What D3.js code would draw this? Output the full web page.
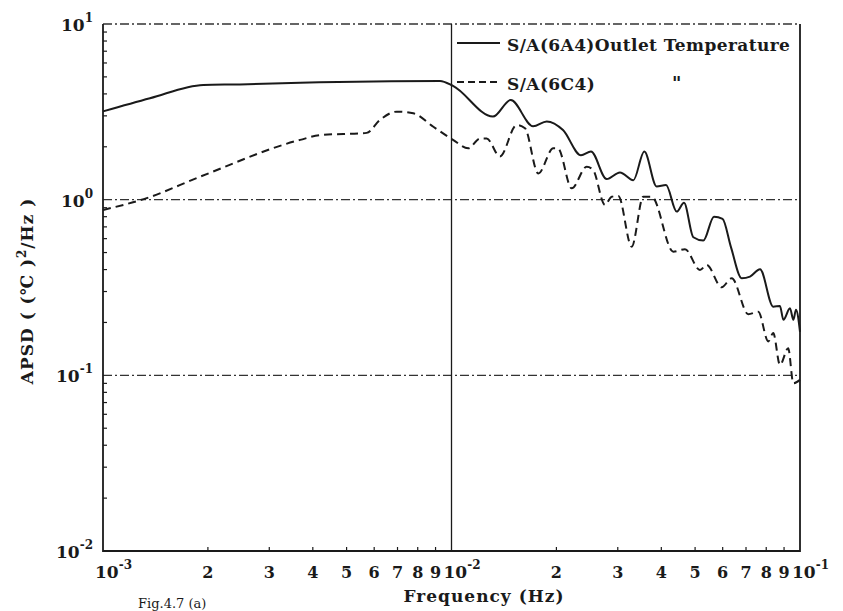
<!DOCTYPE html>
<meta charset="utf-8">
<style>

body {
  margin: 0;
  background: #fff;
}

text {
  font-family: "DejaVu Serif", serif;
  font-weight: bold;
  fill: #1a1a1a;
}

</style>
<body>
<script src="https://d3js.org/d3.v7.min.js"></script>
<script>

// S/A(6A4) outlet temperature
var freqA = [0.001, 0.001364, 0.00194, 0.00247, 0.00368, 0.00927, 0.0101, 0.01315, 0.01479, 0.01714,
             0.01876, 0.02089, 0.02353, 0.02513, 0.02788, 0.03044, 0.03324, 0.03575, 0.03878, 0.04126,
             0.04428, 0.04647, 0.04943, 0.05279, 0.05665, 0.05995, 0.0634, 0.06803, 0.07187, 0.07678,
             0.0838, 0.0876, 0.0896, 0.0936, 0.0957, 0.0974, 0.1];
var apsdA = [3.18, 3.78, 4.50, 4.53, 4.63, 4.74, 4.44, 2.97, 3.69, 2.62,
             2.79, 2.49, 1.79, 1.88, 1.31, 1.43, 1.29, 1.88, 1.19, 1.21,
             0.855, 0.961, 0.611, 0.585, 0.800, 0.777, 0.535, 0.357, 0.365, 0.402,
             0.246, 0.248, 0.207, 0.241, 0.207, 0.236, 0.177];

// S/A(6C4)
var freqC = [0.001, 0.001335, 0.001897, 0.00368, 0.004196, 0.00571, 0.00624, 0.00696, 0.00777, 0.00887,
             0.0101, 0.01117, 0.01208, 0.01262, 0.01377, 0.01538, 0.01625, 0.01774, 0.01959, 0.0202,
             0.02213, 0.02443, 0.02547, 0.02757, 0.02882, 0.03011, 0.03289, 0.03551, 0.03753, 0.0433,
             0.04677, 0.05164, 0.05397, 0.0596, 0.06368, 0.07108, 0.0759, 0.0811, 0.0838, 0.0876,
             0.0925, 0.0957, 0.1];
var apsdC = [0.874, 1.02, 1.35, 2.19, 2.33, 2.40, 2.85, 3.17, 3.10, 2.60,
             2.19, 1.96, 2.23, 2.23, 1.76, 2.66, 2.55, 1.41, 1.96, 1.96,
             1.16, 1.54, 1.48, 0.933, 1.04, 1.05, 0.540, 1.04, 1.04, 0.506,
             0.522, 0.398, 0.425, 0.317, 0.357, 0.223, 0.230, 0.156, 0.174, 0.1146,
             0.1426, 0.0902, 0.0942];

var xDecades = [1e-3, 1e-2, 1e-1];
var xDecadeLabels = ["-3", "-2", "-1"];
var yDecades = [10, 1, 0.1, 0.01];
var yDecadeLabels = ["1", "0", "-1", "-2"];
var gridLevels = [10, 1, 0.1];
var legendLabels = ["S/A(6A4)Outlet Temperature", "S/A(6C4)"];

var width = 843,
    height = 611;
var m = {left: 103, right: 800, top: 24, bottom: 551};

var svg = d3.select("body").append("svg")
    .attr("width", width)
    .attr("height", height);

var x = d3.scaleLog().domain([1e-3, 1e-1]).range([m.left, m.right]);
var y = d3.scaleLog().domain([1e-2, 10]).range([m.bottom, m.top]);

var ink = "#1a1a1a";

// dash-dot grid lines
svg.selectAll("line.grid")
    .data(gridLevels)
  .enter().append("line")
    .attr("class", "grid")
    .attr("x1", m.left).attr("x2", m.right)
    .attr("y1", function(d) { return y(d); })
    .attr("y2", function(d) { return y(d); })
    .attr("stroke", "#333")
    .attr("stroke-width", 1.3)
    .attr("stroke-dasharray", "9,3,2,3");

// frame: left, bottom, right
svg.append("path")
    .attr("d", "M" + m.left + "," + m.top + "V" + m.bottom + "H" + m.right + "V" + m.top)
    .attr("fill", "none")
    .attr("stroke", ink)
    .attr("stroke-width", 1.8);

// vertical line at 10^-2
svg.append("line")
    .attr("x1", x(1e-2)).attr("x2", x(1e-2))
    .attr("y1", m.top).attr("y2", m.bottom)
    .attr("stroke", ink)
    .attr("stroke-width", 1.3);

// minor ticks
function mantissa(d) {
  return Math.round(d / Math.pow(10, Math.floor(Math.log10(d) + 1e-9)));
}

var xMinor = x.ticks().filter(function(d) { return mantissa(d) > 1 && d < 0.1; });
svg.selectAll("line.xminor")
    .data(xMinor)
  .enter().append("line")
    .attr("x1", function(d) { return x(d); })
    .attr("x2", function(d) { return x(d); })
    .attr("y1", m.bottom).attr("y2", m.bottom - 4)
    .attr("stroke", ink).attr("stroke-width", 1.2);

var yMinor = y.ticks().filter(function(d) { return mantissa(d) > 1 && d < 10; });
svg.selectAll("line.yminor")
    .data(yMinor)
  .enter().append("line")
    .attr("x1", m.left).attr("x2", m.left + 4)
    .attr("y1", function(d) { return y(d); })
    .attr("y2", function(d) { return y(d); })
    .attr("stroke", ink).attr("stroke-width", 1.2);

// x tick labels
svg.selectAll("text.xminor")
    .data(xMinor)
  .enter().append("text")
    .attr("x", function(d) { return x(d); })
    .attr("y", 578)
    .attr("text-anchor", "middle")
    .style("font-size", "16px")
    .text(mantissa);

var xl = svg.selectAll("text.xdec")
    .data(xDecades)
  .enter().append("text")
    .attr("x", function(d) { return x(d) - 8; })
    .attr("y", 578)
    .style("font-size", "17px");
xl.append("tspan").text("10");
xl.append("tspan")
    .attr("dy", -9)
    .style("font-size", "12px")
    .text(function(d, i) { return xDecadeLabels[i]; });

// y tick labels
var yl = svg.selectAll("text.ydec")
    .data(yDecades)
  .enter().append("text")
    .attr("x", 93)
    .attr("y", function(d) { return y(d) + 7; })
    .attr("text-anchor", "end")
    .style("font-size", "17px");
yl.append("tspan").text("10");
yl.append("tspan")
    .attr("dy", -9)
    .style("font-size", "12px")
    .text(function(d, i) { return yDecadeLabels[i]; });

// axis titles
svg.append("text")
    .attr("x", 484)
    .attr("y", 602)
    .attr("text-anchor", "middle")
    .style("font-size", "17px")
    .style("letter-spacing", "1px")
    .text("Frequency  (Hz)");

var yt = svg.append("text")
    .attr("transform", "translate(33,291) rotate(-90)")
    .attr("text-anchor", "middle")
    .style("font-size", "17px")
    .style("letter-spacing", "1px");
yt.append("tspan").text("APSD  ( (\u2103 )");
yt.append("tspan").attr("dy", -7).style("font-size", "12px").text("2");
yt.append("tspan").attr("dy", 7).text("/Hz )");

svg.append("text")
    .attr("x", 138)
    .attr("y", 608)
    .style("font-size", "13px")
    .style("font-weight", "normal")
    .text("Fig.4.7 (a)");

// curves
var line = d3.line()
    .x(function(d) { return x(d[0]); })
    .y(function(d) { return y(d[1]); })
    .curve(d3.curveMonotoneX);

svg.append("path")
    .datum(d3.zip(freqA, apsdA))
    .attr("d", line)
    .attr("fill", "none")
    .attr("stroke", ink)
    .attr("stroke-width", 2);

svg.append("path")
    .datum(d3.zip(freqC, apsdC))
    .attr("d", line)
    .attr("fill", "none")
    .attr("stroke", ink)
    .attr("stroke-width", 2)
    .attr("stroke-dasharray", "8,5");

// legend
var lg = svg.append("g");
lg.append("line")
    .attr("x1", 457).attr("x2", 500).attr("y1", 43).attr("y2", 43)
    .attr("stroke", ink).attr("stroke-width", 2);
lg.append("line")
    .attr("x1", 457).attr("x2", 500).attr("y1", 82).attr("y2", 82)
    .attr("stroke", ink).attr("stroke-width", 2)
    .attr("stroke-dasharray", "7,4");
lg.selectAll("text.leg")
    .data(legendLabels)
  .enter().append("text")
    .attr("x", 507)
    .attr("y", function(d, i) { return 51 + i * 39; })
    .style("font-size", "17px")
    .style("letter-spacing", "0.4px")
    .text(function(d) { return d; });
lg.append("text")
    .attr("x", 672)
    .attr("y", 90)
    .style("font-size", "18px")
    .text("\"");

</script>
